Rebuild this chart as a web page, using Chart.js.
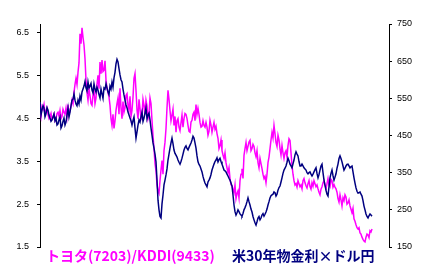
<!DOCTYPE html>
<html>
<head>
<meta charset="utf-8">
<script src="https://cdn.jsdelivr.net/npm/chart.js@4/dist/chart.umd.min.js"></script>
<style>
  html, body { margin: 0; padding: 0; background: #fff; }
  #wrap { position: relative; width: 433px; height: 271px; }
</style>
</head>
<body>
<div id="wrap"><canvas id="c" width="433" height="271"></canvas></div>
<script>
// トヨタ(7203)/KDDI(9433) -- left axis, even sessions
const ratioA = [
  4.69, 4.78, 4.83, 4.69, 4.60, 4.55, 4.48, 4.60, 4.50,
  4.65, 4.69, 4.55, 4.65, 4.74, 4.83, 4.69, 4.93, 5.11, 5.44, 5.58, 6.48, 6.62, 6.22, 5.40, 4.93,
  5.04, 4.81, 5.16, 4.98, 5.51, 5.82, 5.87, 5.63, 5.40, 5.11, 4.81, 4.34, 4.27, 4.69, 4.98, 5.21, 4.50,
  4.65, 5.04, 4.81, 5.02, 4.69, 5.44, 5.16, 4.50, 4.74, 4.58, 4.81, 4.93, 4.50, 4.98, 4.46, 3.80,
  3.28, 2.81, 3.05, 3.52, 3.75, 4.27, 5.16, 4.69, 4.58, 4.34, 4.18, 4.50, 4.22, 4.58, 4.50, 4.60,
  4.34, 4.18, 4.46, 4.65, 4.83, 4.74, 4.41, 4.32, 4.34,
  4.41, 4.11, 4.46, 4.18, 4.41, 4.32, 4.04, 3.87, 3.75, 3.57, 3.47, 3.24, 3.10, 2.93, 2.77, 2.63,
  2.81, 3.05, 3.33, 3.64, 3.94, 3.85, 3.99, 3.80, 3.85, 3.61, 3.47, 3.57, 3.33, 3.10, 3.00, 3.47,
  3.80, 4.18, 4.34, 3.94, 4.11, 3.80, 3.87, 3.57, 3.75,
  3.87, 3.99, 3.40, 3.05, 2.98, 3.05, 2.91, 2.86, 3.10, 2.93, 2.98, 2.91, 3.00, 3.05, 2.91, 2.86,
  2.72, 2.91, 3.05, 2.86, 3.10, 2.91, 3.05, 2.96, 2.86, 2.63, 2.72, 2.46, 2.58, 2.67, 2.53, 2.46,
  2.30, 2.16, 2.02, 1.92, 1.83, 1.73, 1.64, 1.73, 1.78, 1.88, 1.92
];
// odd sessions (in between the ones above)
const ratioB = [
  4.55, 4.72, 4.62, 4.75, 4.50, 4.62, 4.52, 4.45, 4.62, 4.55,
  4.50, 4.72, 4.60, 4.55, 4.60, 4.78, 4.85, 5.30, 5.30, 5.80,
  6.25, 6.40, 5.90, 5.10, 5.20, 4.85, 5.05, 4.85, 5.30, 5.20,
  5.55, 5.60, 5.85, 5.20, 5.00, 4.50, 4.60, 4.45, 4.85, 4.60,
  4.75, 4.90, 4.75, 5.08, 4.70, 4.55, 5.00, 5.55, 4.70, 4.95,
  4.50, 4.95, 4.60, 4.80, 4.60, 4.85, 4.10, 3.45, 2.95, 2.75,
  3.30, 3.20, 3.95, 4.75, 4.95, 4.45, 4.72, 4.55, 4.45, 4.30,
  4.40, 4.30, 4.62, 4.50, 4.20, 4.42, 4.60, 4.45, 4.60, 4.60,
  4.30, 4.45, 4.30, 4.30, 4.20, 4.35, 4.30, 4.25, 4.15, 3.80,
  4.00, 3.65, 3.70, 3.35, 3.35, 2.95, 2.85, 2.95, 2.75, 2.65,
  3.20, 3.10, 3.80, 3.75, 3.95, 3.75, 3.90, 3.70, 3.75, 3.35,
  3.45, 3.20, 3.15, 3.20, 3.60, 4.00, 4.05, 4.15, 3.85, 4.00,
  3.65, 3.70, 3.70, 3.60, 4.03, 3.70, 3.20, 2.95, 2.90, 2.98,
  2.95, 3.05, 3.00, 2.88, 3.05, 2.85, 2.92, 2.98, 2.95, 2.78,
  2.85, 3.00, 2.95, 2.98, 2.95, 3.08, 2.90, 2.90, 2.78, 2.55,
  2.60, 2.65, 2.72, 2.50, 2.60, 2.38, 2.40, 2.10, 1.95, 1.95,
  1.80, 1.68, 1.62, 1.80, 1.72, 1.85
];

// 米30年物金利×ドル円 -- right axis, even sessions
const rateA = [
  540, 519, 524, 508, 519, 497, 492, 508, 497,
  481, 500, 476, 497, 486, 524, 513, 545, 562, 535, 545, 556, 567, 583, 578, 594,
  583, 572, 589, 567, 572, 551, 562, 578, 589, 567, 583, 594, 605, 643, 648, 613, 594,
  559, 532, 513, 497, 478, 500, 443, 478, 486, 513, 497, 524, 505, 492, 451, 416,
  379, 276, 232, 266, 317, 344, 384, 416, 443, 411, 397, 384, 373, 389, 411, 422,
  411, 424, 438, 443, 416, 379, 368, 352, 330,
  317, 325, 336, 357, 373, 384, 379, 389, 373, 357, 352, 341, 330, 314, 263, 236,
  250, 239, 233, 250, 263, 282, 263, 244, 223, 209, 228, 223, 236, 233, 244, 263,
  282, 290, 298, 287, 303, 314, 336, 357, 368,
  389, 373, 363, 384, 406, 395, 368, 373, 363, 357, 347, 352, 341, 352, 363, 336,
  357, 373, 330, 303, 287, 336, 357, 330, 347, 373, 395, 379, 357, 368, 373, 363,
  368, 336, 309, 295, 298, 287, 260, 239, 228, 239, 233
];
// odd sessions
const rateB = [
  505, 530, 500, 525, 505, 488, 500, 490, 478, 492,
  470, 488, 478, 505, 500, 530, 548, 545, 530, 535,
  545, 575, 595, 570, 578, 590, 565, 575, 580, 560,
  575, 550, 575, 578, 560, 575, 580, 620, 655, 630,
  600, 575, 545, 525, 505, 490, 490, 470, 460, 492,
  500, 488, 510, 495, 510, 470, 430, 400, 330, 250,
  228, 290, 330, 360, 400, 430, 428, 402, 392, 378,
  380, 400, 418, 415, 418, 430, 448, 430, 395, 372,
  360, 340, 322, 312, 330, 345, 365, 380, 390, 385,
  380, 365, 355, 346, 335, 322, 290, 245, 242, 245,
  236, 240, 256, 272, 272, 252, 232, 215, 218, 232,
  228, 240, 238, 252, 272, 288, 292, 296, 292, 310,
  325, 348, 362, 378, 382, 368, 374, 398, 400, 380,
  368, 368, 360, 350, 350, 346, 346, 358, 348, 345,
  368, 350, 316, 292, 312, 348, 342, 338, 362, 388,
  388, 368, 362, 372, 368, 366, 352, 322, 300, 296,
  292, 275, 250, 232, 234, 236
];

const leftTicks = [1.5, 2.5, 3.5, 4.5, 5.5, 6.5];
const rightTicks = [150, 250, 350, 450, 550, 650, 750];
const seriesNames = ["トヨタ(7203)/KDDI(9433)", "米30年物金利×ドル円"];

const COLORS = { ratio: "#ff00ff", rate: "#000080", axis: "#000000" };
const SLOTS = 349; // x range incl. the empty space after the last session

// merge the two half-series back into one run of sessions
function interleave(a, b) {
  const out = [];
  for (let i = 0; i < a.length; i++) {
    out.push(a[i]);
    if (i < b.length) out.push(b[i]);
  }
  return out.map((v, i) => ({ x: i, y: v }));
}

// the two coloured captions under the plot
const captionPlugin = {
  id: "captions",
  afterDraw(chart) {
    const ctx = chart.ctx;
    ctx.save();
    ctx.font = "bold 14px 'Noto Sans CJK JP', sans-serif";
    ctx.textBaseline = "middle";
    ctx.textAlign = "left";
    ctx.fillStyle = COLORS.ratio;
    ctx.fillText(seriesNames[0], 46, 256);
    ctx.fillStyle = COLORS.rate;
    ctx.fillText(seriesNames[1], 232, 256);
    ctx.restore();
  }
};

const axisCommon = {
  type: "linear",
  border: { display: true, color: COLORS.axis, width: 1 },
  grid: { display: true, drawOnChartArea: false, drawTicks: true, tickLength: 3, color: COLORS.axis }
};

new Chart(document.getElementById("c"), {
  type: "line",
  data: {
    datasets: [
      {
        label: seriesNames[1],
        data: interleave(rateA, rateB),
        yAxisID: "yR",
        borderColor: COLORS.rate,
        borderWidth: 1.5,
        pointRadius: 0,
        tension: 0,
        fill: false
      },
      {
        label: seriesNames[0],
        data: interleave(ratioA, ratioB),
        yAxisID: "yL",
        borderColor: COLORS.ratio,
        borderWidth: 1.5,
        pointRadius: 0,
        tension: 0,
        fill: false
      }
    ]
  },
  options: {
    responsive: false,
    animation: false,
    layout: { padding: { top: 24, bottom: 24, left: 0, right: 0 } },
    plugins: { legend: { display: false }, tooltip: { enabled: false } },
    scales: {
      x: { type: "linear", display: false, min: 0, max: SLOTS },
      yL: {
        ...axisCommon,
        position: "left",
        min: 1.5,
        max: 6.71,
        afterBuildTicks: s => { s.ticks = leftTicks.map(v => ({ value: v })); },
        afterFit: s => { s.width = 40; },
        ticks: {
          padding: 8,
          color: "#000",
          font: { family: "'Liberation Sans', Arial, sans-serif", size: 9 },
          callback: v => v.toFixed(1)
        }
      },
      yR: {
        ...axisCommon,
        position: "right",
        min: 150,
        max: 750,
        afterBuildTicks: s => { s.ticks = rightTicks.map(v => ({ value: v })); },
        afterFit: s => { s.width = 44; },
        ticks: {
          padding: 5,
          color: "#000",
          font: { family: "'Liberation Sans', Arial, sans-serif", size: 9 }
        }
      }
    }
  },
  plugins: [captionPlugin]
});
</script>
</body>
</html>
